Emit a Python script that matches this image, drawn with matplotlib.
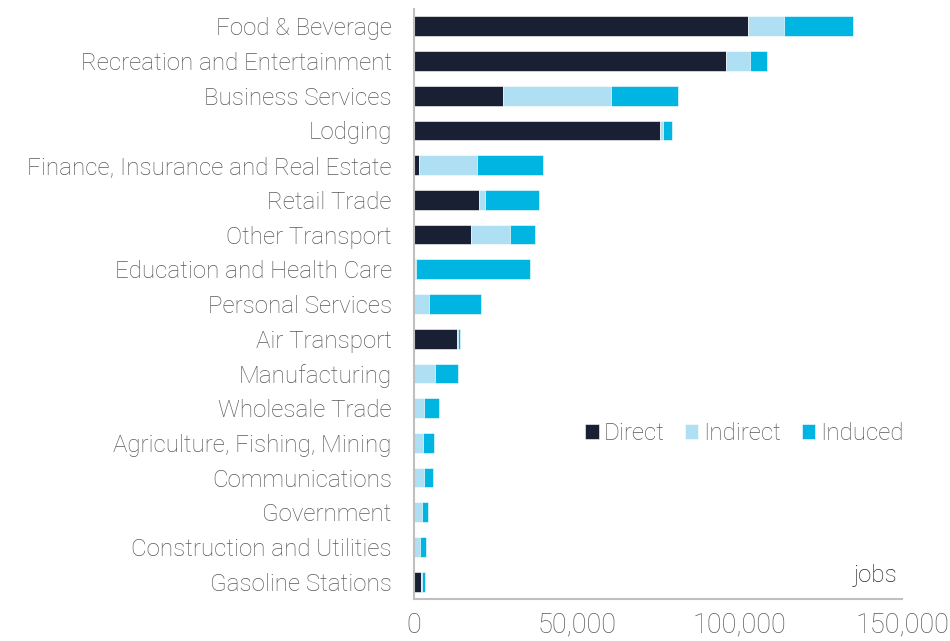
import matplotlib.pyplot as plt
import numpy as np

plt.rcParams['font.family'] = ['Roboto', 'DejaVu Sans']

categories = [
    "Food & Beverage", "Recreation and Entertainment", "Business Services",
    "Lodging", "Finance, Insurance and Real Estate", "Retail Trade",
    "Other Transport", "Education and Health Care", "Personal Services",
    "Air Transport", "Manufacturing", "Wholesale Trade",
    "Agriculture, Fishing, Mining", "Communications", "Government",
    "Construction and Utilities", "Gasoline Stations",
]
direct = [102600, 95900, 27400, 75600, 1600, 20000, 17600, 300, 0,
          13200, 0, 0, 0, 0, 0, 0, 2200]
indirect = [11200, 7300, 33300, 900, 17800, 1800, 12000, 300, 4600,
            200, 6400, 3200, 2900, 3000, 2400, 1900, 300]
induced = [21200, 5300, 20500, 2800, 20200, 16600, 7600, 35000, 16100,
           600, 7100, 4500, 3300, 2900, 1900, 1900, 1000]

colors = {'Direct': '#1a2033', 'Indirect': '#aedff2', 'Induced': '#00b5e2'}
FS = 17.4

fig = plt.figure(figsize=(9.5, 6.41), dpi=100)
ax = fig.add_axes([0.4358, 0.0655, 0.5137, 0.9205])

y = np.arange(len(categories))
d = np.array(direct)
i_ = np.array(indirect)
n = np.array(induced)
h = 0.57
ax.barh(y, d, height=h, color=colors['Direct'], label='Direct',
        edgecolor='white', linewidth=0.4)
ax.barh(y, i_, left=d, height=h, color=colors['Indirect'], label='Indirect',
        edgecolor='white', linewidth=0.4)
ax.barh(y, n, left=d + i_, height=h, color=colors['Induced'], label='Induced',
        edgecolor='white', linewidth=0.4)

ax.set_ylim(16.5, -0.5)
ax.set_xlim(0, 150000)
ax.set_yticks(y)
ax.set_yticklabels(categories, fontsize=FS, color='#595959', fontweight='light',
                   va='center_baseline')
ax.set_xticks([0, 50000, 100000, 150000])
ax.set_xticklabels(['0', '50,000', '100,000', '150,000'], fontsize=19.5,
                   color='#595959', fontweight='light')
ax.tick_params(axis='y', length=0, pad=16)
ax.tick_params(axis='x', length=0, pad=9)

for s in ['top', 'right']:
    ax.spines[s].set_visible(False)
for s in ['left', 'bottom']:
    ax.spines[s].set_color('#bfbfbf')
    ax.spines[s].set_linewidth(1.5)

leg = ax.legend(loc='center right', bbox_to_anchor=(1.003, 0.281), ncol=3,
                frameon=False, fontsize=FS, handlelength=0.56,
                handleheight=0.56, handletextpad=0.2, columnspacing=0.85,
                borderpad=0, borderaxespad=0)
for t in leg.get_texts():
    t.set_color('#595959')
    t.set_fontweight('light')

ax.text(0.99, 0.04, 'jobs', transform=ax.transAxes, ha='right', va='center',
        fontsize=FS, color='#262626', fontweight='light')

fig.savefig('out.png', dpi=100)
